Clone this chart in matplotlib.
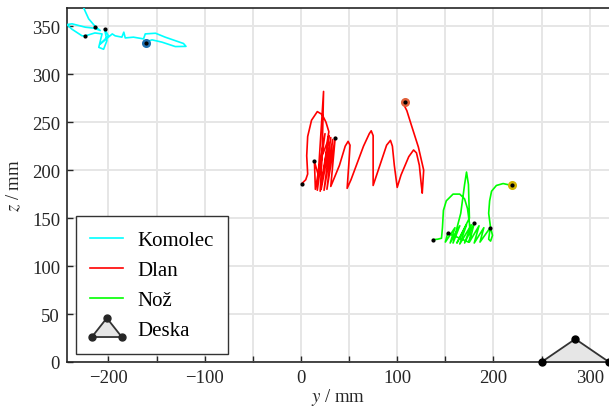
import numpy as np
import matplotlib
matplotlib.use("Agg")
import matplotlib.pyplot as plt
from matplotlib.patches import Polygon
from matplotlib.lines import Line2D
from matplotlib.legend_handler import HandlerBase

# trajectories (y, z) in mm
komolec_y = [-227, -220.5, -213.6, -208.4, -215, -224, -237.8, -243, -238, -227.4, -224,
             -214, -206.6, -210, -205, -201.5, -204, -200, -208.4, -203, -196, -193,
             -186, -184, -182.5, -174, -163.5, -161.7, -151, -141, -122, -119.4, -130.5,
             -144.3, -154.7, -160, -161]
komolec_z = [372, 357.7, 349.6, 345.5, 348, 349, 352.5, 351.7, 347, 340, 340,
             343, 342, 328, 326, 335, 347, 340, 331.6, 336, 342, 340,
             338.6, 343.8, 337.8, 338.6, 336.8, 342, 342.7, 338.6, 332, 329, 328.8,
             333.4, 335.8, 334, 332.6]
komolec_dots = [(-224, 340), (-213.6, 349.6), (-204, 347)]

dlan_y = [1, 5, 7, 6, 7, 11, 17, 22, 26, 29, 27, 22, 18, 14, 15, 25, 17, 23.5, 22, 20,
          29, 21, 31, 24, 33, 27, 35.6, 31, 40, 46, 49, 51, 50, 48, 52, 65, 71, 73, 75,
          75, 82, 89, 93, 95, 97, 100, 104, 112, 117, 120, 123, 125, 126, 127.5, 122,
          115, 110, 107, 108]
dlan_z = [186, 190, 196, 215, 235, 252, 261, 258, 250, 240, 228, 215, 195, 209, 180, 238,
          179, 282, 215, 178, 236, 180, 234, 179, 232, 180, 234, 183, 205, 225, 230, 226,
          210, 181, 190, 225, 238, 241, 236, 184, 205, 226, 231, 225, 205, 182, 195, 214,
          221, 218, 205, 185, 176, 200, 224, 246, 262, 268, 271]
dlan_dots = [(1, 186), (14, 209), (35.6, 234)]

noz_y = [137, 142, 146, 147, 148, 151, 158, 165, 170, 173, 175, 176, 174, 152.5, 150,
         160, 155, 165, 158, 166, 170, 172, 174, 175, 162, 172, 165, 177, 170, 180, 175,
         185, 180, 190, 186, 196.6, 195, 197, 199, 197, 195, 196, 198, 203, 210, 219]
noz_z = [127.5, 128, 129, 140, 158, 168, 175, 175, 170, 160, 145, 130, 125, 134.5, 125,
         140, 124, 142, 124, 155, 185, 198, 185, 150, 124, 143, 123, 143, 124, 144.6, 125,
         142, 124, 140, 125, 140, 128, 126, 132, 140, 155, 168, 178, 184, 186, 184]
noz_dots = [(137, 127.5), (152.5, 134.5), (180, 144.6), (196.6, 140)]

deska_y = [250, 285, 320]
deska_z = [0, 24, 0]

series = [
    ("Komolec", komolec_y, komolec_z, komolec_dots, "#00ffff", "#1f6fb0"),
    ("Dlan", dlan_y, dlan_z, dlan_dots, "#ff0000", "#e0603a"),
    ("Nož", noz_y, noz_z, noz_dots, "#00ff00", "#d2b400"),
]

plt.rcParams["font.family"] = ["Liberation Serif", "DejaVu Serif"]
plt.rcParams["mathtext.fontset"] = "stix"
fs = 13.5

fig = plt.figure(figsize=(6.09, 4.10), dpi=100)
ax = fig.add_axes([67/609, 47/410, 542/609, 354/410])

for name, ys, zs, dots, col, endcol in series:
    ax.plot(ys, zs, color=col, lw=1.2, label=name, zorder=3)
    ax.plot(ys[-1], zs[-1], "o", ms=5.5, mfc=endcol, mec=endcol, zorder=4)
    ax.plot(ys[-1], zs[-1], "o", ms=2, color="k", zorder=5)
    ax.plot([d[0] for d in dots], [d[1] for d in dots], "o", ms=2, color="k", zorder=5)

tri = Polygon(list(zip(deska_y, deska_z)), closed=True, facecolor="#e6e6e6",
              edgecolor="#333333", lw=1.3, zorder=3, clip_on=False)
ax.add_patch(tri)
ax.plot(deska_y, deska_z, "o", ms=5, color="k", zorder=4, clip_on=False)


class DeskaHandler(HandlerBase):
    def create_artists(self, legend, orig_handle, xdescent, ydescent, width, height,
                       fontsize, trans):
        x0, x1 = -xdescent + 0.05 * width, -xdescent + 0.95 * width
        xm = 0.5 * (x0 + x1)
        y0 = -ydescent - 0.15 * height
        y1 = -ydescent + 1.15 * height
        pts = [(x0, y0), (xm, y1), (x1, y0)]
        p = Polygon(pts, closed=True, facecolor="#e6e6e6", edgecolor="#333333",
                    lw=1.3, transform=trans)
        l = Line2D([q[0] for q in pts], [q[1] for q in pts], ls="none", marker="o",
                   ms=5, color="#262626", transform=trans)
        return [p, l]


handles, labels = ax.get_legend_handles_labels()
deska_handle = Polygon([[0, 0]], label="Deska")
handles.append(deska_handle)
labels.append("Deska")
leg = ax.legend(handles, labels, loc="lower left", bbox_to_anchor=(0.0166, 0.0226),
                borderaxespad=0, fontsize=15, handlelength=1.6, handletextpad=0.68,
                labelspacing=0.5, fancybox=False, framealpha=1, edgecolor="#333333",
                handler_map={Polygon: DeskaHandler()}, borderpad=0.68)
leg.get_frame().set_linewidth(1.0)
leg.set_zorder(10)

ax.set_xlim(-243, 320)
ax.set_ylim(0, 369)
ax.set_xticks(np.arange(-200, 301, 50))
ax.set_xticklabels(["\u2212200", "", "\u2212100", "", "0", "", "100", "", "200", "", "300"])
ax.set_yticks(np.arange(0, 351, 50))
ax.grid(True, color="#e6e6e6", lw=1.4, zorder=0)
ax.set_axisbelow(True)
ax.tick_params(direction="in", length=4, width=1.0, labelsize=fs, color="#262626",
               labelcolor="#262626", pad=5)
for s in ["left", "bottom", "top"]:
    ax.spines[s].set_linewidth(1.2)
    ax.spines[s].set_color("#262626")
ax.spines["right"].set_visible(False)

ax.set_xlabel("$y$ / mm", fontsize=fs, color="#262626", labelpad=0)
ax.set_ylabel("$z$ / mm", fontsize=fs, color="#262626", labelpad=6)

fig.savefig("out.png", dpi=100)
